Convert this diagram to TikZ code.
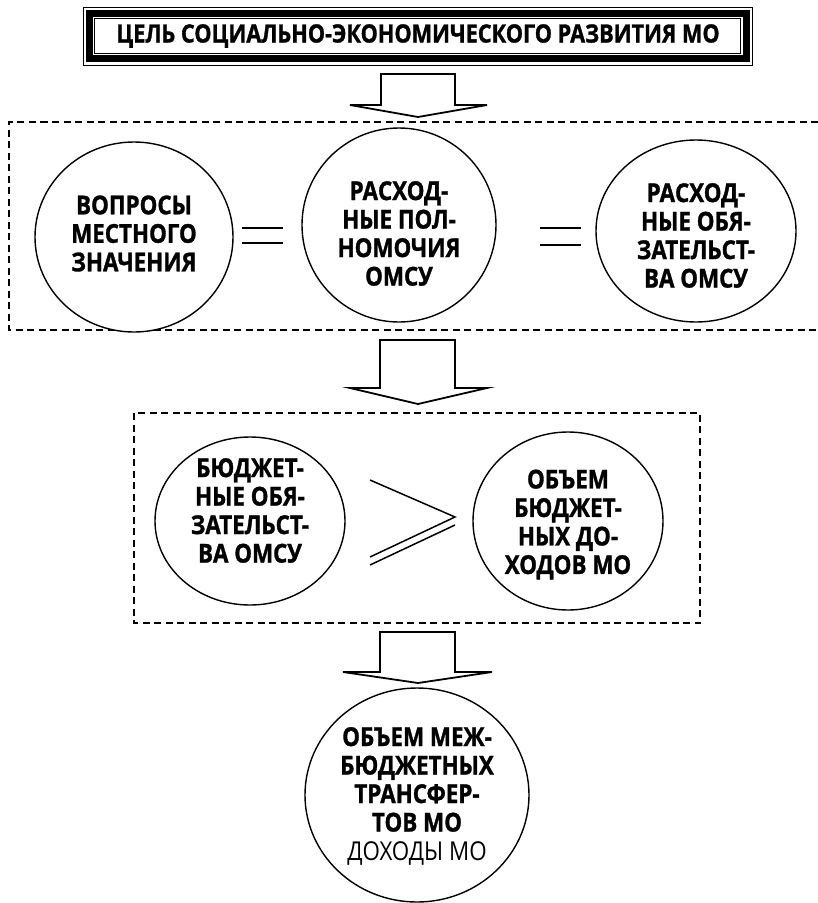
\documentclass[tikz,border=0pt]{standalone}
\usepackage{fontspec}
\setmainfont{Open Sans}[FakeStretch=0.86, BoldFeatures={FakeBold=1.2}]
\usetikzlibrary{shapes.geometric}
\tikzset{
  oval/.style={draw, ellipse, line width=1.4pt, inner sep=0pt, fill=white},
  lbl/.style={font=\bfseries\fontsize{26}{28.5}\selectfont, align=center, inner sep=0pt},
  dbox/.style={draw, line width=1.5pt, dash pattern=on 7pt off 4.5pt},
  barrow/.style={draw, line width=1.8pt, fill=white, line join=miter},
  rel/.style={line width=1.5pt},
}
\begin{document}
\begin{tikzpicture}[x=1pt,y=-1pt]
\useasboundingbox (0,0) rectangle (818,903);
% dashed frames
\draw[dbox] (818,122) -- (9,122) -- (9,330) -- (818,330);
\draw[dbox] (134,413) rectangle (700,623);
% title frame
\draw[line width=1pt] (83,7) rectangle (752,65);
\draw[line width=7pt] (89,13.5) rectangle (746,58.5);
\draw[line width=1pt] (94.5,18.5) rectangle (740.5,53.5);
\node[lbl, font=\bfseries\fontsize{25.2}{28}\selectfont] (title) at (418,36) {ЦЕЛЬ СОЦИАЛЬНО-ЭКОНОМИЧЕСКОГО РАЗВИТИЯ МО};
% block arrows
\draw[barrow] (381,74) -- (455,74) -- (455,105) -- (487,105) -- (418,117) -- (350,105) -- (381,105) -- cycle;
\draw[barrow] (380,340) -- (455,340) -- (455,388) -- (487,388) -- (418,404) -- (350,388) -- (380,388) -- cycle;
\draw[barrow] (380,632) -- (455,632) -- (455,672) -- (492,672) -- (418,683) -- (343,672) -- (380,672) -- cycle;
% row 1
\node[oval, minimum width=198pt, minimum height=190pt] (c1) at (134,237) {};
\node[oval, minimum width=194pt, minimum height=194pt] (c2) at (399,225) {};
\node[oval, minimum width=200pt, minimum height=182pt] (c3) at (696,231) {};
\node[lbl] (t1) at (134,233.5) {ВОПРОСЫ\\МЕСТНОГО\\ЗНАЧЕНИЯ};
\node[lbl] (t2) at (399,233.5) {РАСХОД-\\НЫЕ ПОЛ-\\НОМОЧИЯ\\ОМСУ};
\node[lbl] (t3) at (696,235.5) {РАСХОД-\\НЫЕ ОБЯ-\\ЗАТЕЛЬСТ-\\ВА ОМСУ};
\draw[rel] (242,228) -- (283,228);
\draw[rel] (242,243) -- (283,243);
\draw[rel] (540,228) -- (581,228);
\draw[rel] (540,245) -- (581,245);
% row 2
\node[oval, minimum width=190pt, minimum height=168pt] (c4) at (250,521) {};
\node[oval, minimum width=190pt, minimum height=178pt] (c5) at (568,521) {};
\node[lbl] (t4) at (250,510.5) {БЮДЖЕТ-\\НЫЕ ОБЯ-\\ЗАТЕЛЬСТ-\\ВА ОМСУ};
\node[lbl] (t5) at (568,524.5) {ОБЪЕМ\\БЮДЖЕТ-\\НЫХ ДО-\\ХОДОВ МО};
\draw[rel] (370,480) -- (455,517) -- (370,557);
\draw[rel] (370,565) -- (455,525);
% row 3
\node[oval, minimum width=224pt, minimum height=214pt] (c6) at (417,795) {};
\node[lbl] (t6) at (417,796) {ОБЪЕМ МЕЖ-\\БЮДЖЕТНЫХ\\ТРАНСФЕР-\\ТОВ МО\\{\mdseries ДОХОДЫ МО}};
\end{tikzpicture}
\end{document}
